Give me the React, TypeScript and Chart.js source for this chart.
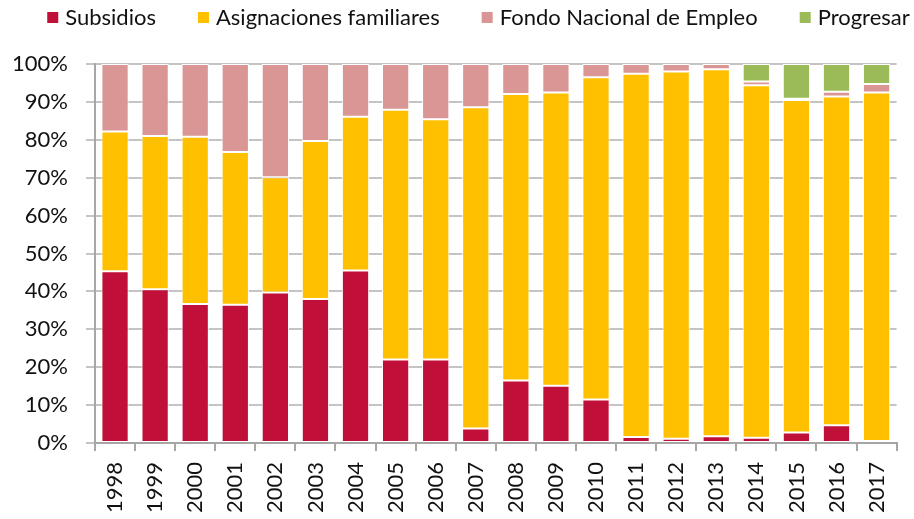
import React, { useEffect, useRef } from "react";
import { Chart, registerables } from "chart.js";

Chart.register(...registerables);

const years = [
  "1998", "1999", "2000", "2001", "2002", "2003", "2004", "2005", "2006", "2007",
  "2008", "2009", "2010", "2011", "2012", "2013", "2014", "2015", "2016", "2017",
];

const subsidios = [45.3, 40.6, 36.7, 36.5, 39.7, 38.0, 45.5, 22.0, 22.0, 3.8, 16.5, 15.1, 11.5, 1.6, 1.1, 1.8, 1.4, 2.8, 4.7, 0.5];
const asignaciones = [36.9, 40.4, 44.1, 40.3, 30.4, 41.7, 40.6, 65.9, 63.4, 84.8, 75.6, 77.4, 85.0, 95.8, 96.9, 96.8, 93.0, 87.7, 86.7, 92.0];
const fondo = [17.8, 19.0, 19.2, 23.2, 29.9, 20.3, 13.9, 12.1, 14.6, 11.4, 7.9, 7.5, 3.5, 2.6, 2.0, 1.4, 1.0, 0.3, 1.3, 2.2];
const progresar = [null, null, null, null, null, null, null, null, null, null, null, null, null, null, null, null, 4.6, 9.2, 7.3, 5.3];

const seriesLabels = ["Subsidios", "Asignaciones familiares", "Fondo Nacional de Empleo", "Progresar"];
const seriesColors = ["#C00F39", "#FFC000", "#D99694", "#9BBB59"];

const yMin = 0;
const yMax = 100;
const yStep = 10;

const FONT = "Lato, 'Open Sans', sans-serif";

const topLegend = {
  id: "topLegend",
  afterDraw(chart: any) {
    const ctx = chart.ctx;
    ctx.save();
    ctx.font = `22px ${FONT}`;
    ctx.textBaseline = "middle";
    const y = 17;
    const box = 11;
    const boxGap = 7;
    const itemGap = 42;
    const widths = chart.data.datasets.map((ds: any) => box + boxGap + ctx.measureText(ds.label).width);
    const total = widths.reduce((a: number, b: number) => a + b, 0) + itemGap * (widths.length - 1);
    let x = 478.5 - total / 2;
    chart.data.datasets.forEach((ds: any, i: number) => {
      ctx.fillStyle = ds.backgroundColor;
      ctx.fillRect(x, y - 5, box, box);
      ctx.fillStyle = "#111";
      ctx.fillText(ds.label, x + box + boxGap, y + 1);
      x += widths[i] + itemGap;
    });
    ctx.restore();
  },
};

export default function App() {
  const canvasRef = useRef<HTMLCanvasElement | null>(null);

  useEffect(() => {
    document.body.style.margin = "0";
    const canvas = canvasRef.current;
    if (!canvas) return;
    const data = [subsidios, asignaciones, fondo, progresar];
    const chart = new Chart(canvas, {
      type: "bar",
      data: {
        labels: years,
        datasets: seriesLabels.map((label, i) => ({
          label,
          data: data[i] as any,
          backgroundColor: seriesColors[i],
          borderColor: "#ffffff",
          borderWidth: 1,
          borderSkipped: false,
          barPercentage: 0.68,
          categoryPercentage: 1,
        })),
      },
      options: {
        responsive: false,
        animation: false,
        layout: { padding: { top: 64, right: 1, left: 0, bottom: 0 } },
        plugins: {
          legend: { display: false },
          tooltip: { enabled: false },
        },
        scales: {
          x: {
            stacked: true,
            offset: true,
            grid: {
              offset: true,
              drawOnChartArea: false,
              drawTicks: true,
              tickLength: 8,
              color: "#a6a6a6",
              lineWidth: 2,
            },
            border: { display: true, color: "#a6a6a6", width: 2 },
            ticks: {
              minRotation: 90,
              maxRotation: 90,
              autoSkip: false,
              padding: 11,
              color: "#111",
              font: { family: FONT, size: 22 },
            },
            afterFit(scale: any) {
              scale.height = 76;
            },
          },
          y: {
            stacked: true,
            min: yMin,
            max: yMax,
            ticks: {
              stepSize: yStep,
              padding: 18,
              color: "#111",
              font: { family: FONT, size: 22 },
              callback: (v: any) => `${v}%`,
            },
            grid: {
              color: "#c4c4c4",
              lineWidth: 2,
              drawTicks: true,
              tickLength: 9,
            },
            border: { display: true, color: "#a6a6a6", width: 2 },
            afterFit(scale: any) {
              scale.width = 95;
            },
          },
        },
      },
      plugins: [topLegend],
    });
    if ((document as any).fonts && (document as any).fonts.load) {
      (document as any).fonts.load(`22px Lato`).then(() => chart.update()).catch(() => {});
    }
    return () => chart.destroy();
  }, []);

  return (
    <div style={{ width: 914, height: 519, position: "relative" }}>
      <canvas ref={canvasRef} width={914} height={519} />
    </div>
  );
}
